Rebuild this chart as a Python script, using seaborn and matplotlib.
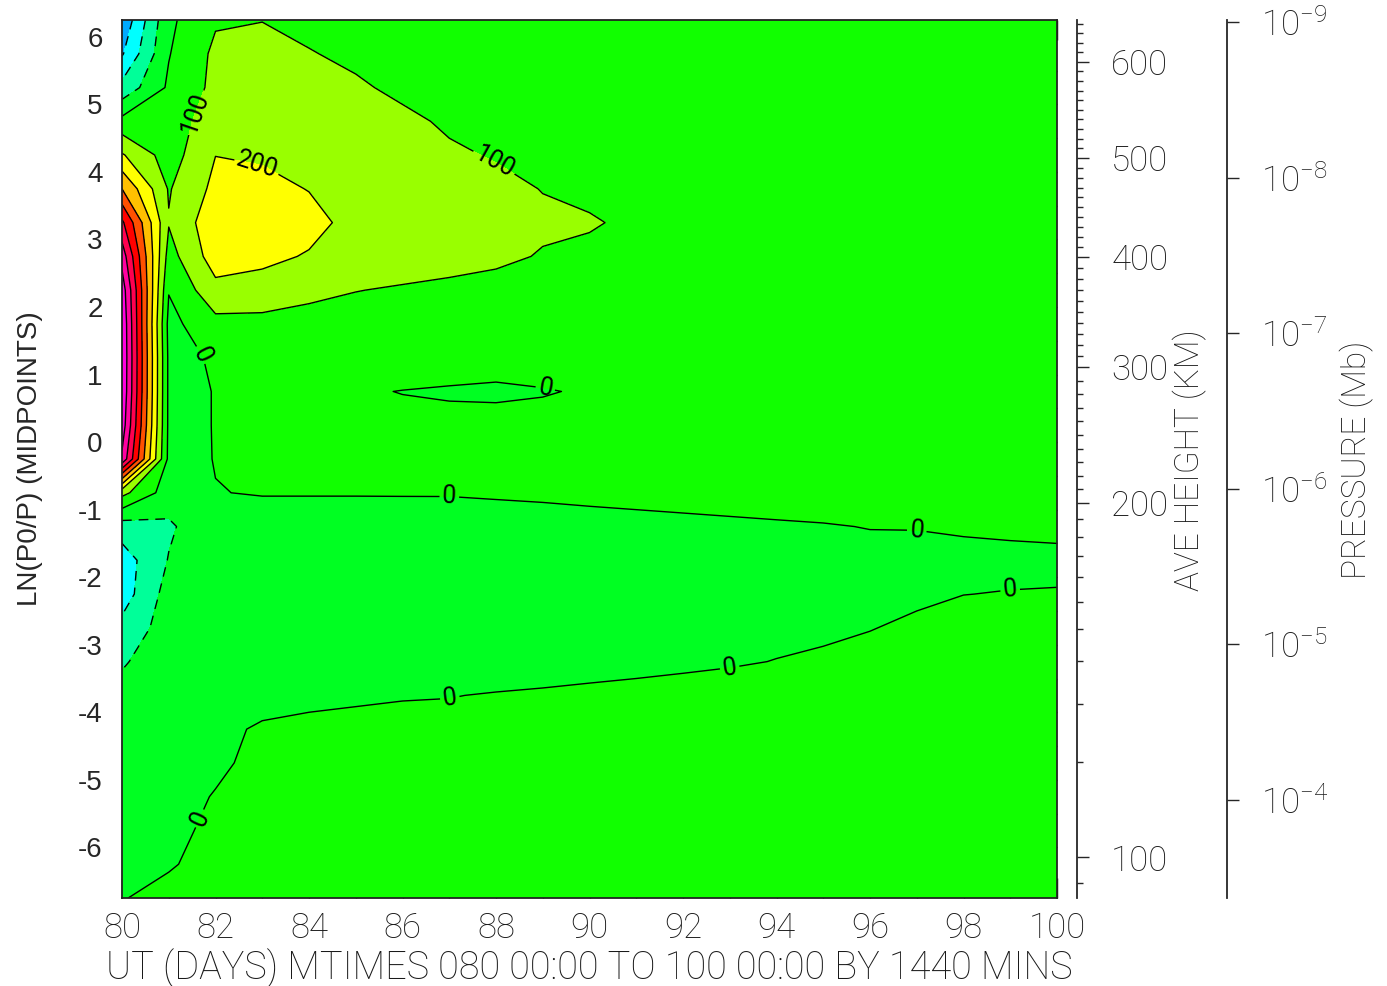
import numpy as np
import matplotlib
matplotlib.use("Agg")
import matplotlib.pyplot as plt
import seaborn as sns
from matplotlib import font_manager
from matplotlib.ticker import FixedLocator, NullLocator

# ---------------- data ----------------
days = [80, 81, 82, 83, 84, 85, 86, 87, 88, 89, 90, 91, 92, 93, 94, 95, 96, 97, 98, 99, 100]
lnp_mid = [-6.75, -6.25, -5.75, -5.25, -4.75, -4.25, -3.75, -3.25, -2.75, -2.25, -1.75, -1.25, -0.75,
           -0.25, 0.25, 0.75, 1.25, 1.75, 2.25, 2.75, 3.25, 3.75, 4.25, 4.75, 5.25, 5.75, 6.25]

# field values, one row per ln(p0/p) level (bottom to top), one column per day
field = [
    [-2, 13, 18, 18, 18, 18, 18, 18, 18, 18, 18, 18, 18, 18, 18, 18, 18, 18, 18, 18, 18],
    [-6, -4, 15, 18, 18, 18, 18, 18, 18, 18, 18, 18, 18, 18, 18, 18, 18, 18, 18, 18, 18],
    [-12, -6, 5, 18, 18, 18, 18, 18, 18, 18, 18, 18, 18, 18, 18, 18, 18, 18, 18, 18, 18],
    [-20, -20, 3, 18, 18, 18, 18, 18, 18, 18, 18, 18, 18, 18, 18, 18, 18, 18, 18, 18, 18],
    [-30, -25, -10, 15, 15, 15, 15, 16, 16, 17, 17, 17, 18, 18, 18, 18, 18, 18, 18, 18, 18],
    [-45, -30, -10, 5, 8, 8, 10, 10, 12, 13, 14, 15, 16, 17, 18, 18, 18, 18, 18, 18, 18],
    [-70, -40, -25, -15, -8, -4, -2, -1, 2, 4.5, 8, 12, 17, 18, 18, 18, 18, 18, 18, 18, 18],
    [-110, -45, -32, -28, -27, -25, -23, -21, -18, -16, -14, -12, -9, -4, 1, 5, 9, 12, 14, 15, 16],
    [-170, -53, -35, -32, -32, -30, -28, -26, -24, -22, -20, -18, -16, -13, -10, -6, -1, 5, 10, 12, 13],
    [-250, -60, -35, -32, -32, -31, -30, -28, -26, -24, -22, -20, -18, -16, -14, -12, -9, -5, -0.3, 1, 2],
    [-250, -95, -30, -30, -30, -30, -28, -26, -24, -21, -19, -17, -15, -13, -12, -11, -10, -8, -7, -7, -8],
    [-150, -115, -25, -27, -27, -27, -25, -24, -20, -15, -12, -10, -8, -6, -4, -2, 1, 1, 3, 5, 8],
    [130, -50, -1.5, 3, 3, 3, 3, 3, 5, 6, 8, 10, 12, 14, 16, 17, 18, 19, 20, 21, 22],
    [780, -25, 2, 10, 10, 9, 9, 9, 9, 9, 10, 11, 12, 13, 14, 14, 14, 14, 14, 14, 14],
    [860, -20, 2, 15, 15, 12, 10, 10, 10, 10, 11, 12, 13, 13, 13, 13, 13, 13, 13, 13, 13],
    [890, -20, 2, 20, 18, 4, -1, -4, -5, -2, 3, 8, 12, 14, 15, 16, 16, 16, 16, 16, 16],
    [895, -20, 7, 35, 35, 30, 25, 20, 13, 16, 20, 22, 23, 23, 22, 22, 21, 21, 20, 20, 20],
    [890, -30, 70, 75, 70, 65, 60, 55, 50, 47, 44, 42, 40, 38, 36, 34, 32, 30, 29, 28, 27],
    [860, 5, 170, 150, 120, 102, 92, 85, 75, 70, 66, 62, 58, 55, 52, 50, 48, 46, 44, 42, 40],
    [760, 60, 250, 230, 190, 160, 140, 125, 115, 95, 88, 80, 74, 69, 64, 60, 57, 54, 52, 50, 48],
    [620, 106, 270, 275, 240, 160, 140, 130, 120, 112, 105, 90, 80, 74, 69, 65, 62, 59, 57, 55, 53],
    [400, 92, 225, 235, 196, 160, 140, 128, 118, 98, 88, 78, 72, 68, 64, 61, 58, 56, 54, 52, 50],
    [210, 53, 199, 185, 160, 140, 125, 110, 95, 82, 74, 68, 64, 61, 58, 56, 54, 52, 50, 48, 46],
    [30, 60, 140, 150, 140, 125, 115, 90, 80, 72, 66, 62, 59, 56, 54, 52, 50, 48, 46, 44, 42],
    [-170, 15, 125, 140, 125, 110, 85, 75, 68, 62, 58, 55, 52, 50, 48, 46, 44, 42, 40, 38, 36],
    [-310, -5, 120, 130, 104, 85, 75, 68, 62, 57, 53, 50, 47, 45, 43, 41, 39, 37, 35, 33, 31],
    [-380, -20, 90, 98, 80, 70, 62, 56, 52, 48, 45, 42, 40, 38, 36, 34, 32, 30, 28, 26, 25],
]

fill_levels = [-400, -300, -200, -100, 0, 100, 200, 300, 400, 500, 600, 700, 800, 900, 1000]
neg_levels = [-300, -200, -100]
high_levels = [300, 400, 500, 600, 700, 800]
band_colors = ["#00aaff", "#00ffff", "#00ff99", "#00ff22", "#11ff00", "#99ff00", "#ffff00",
               "#ffc000", "#ff5000", "#ff0000", "#ff0050", "#ff00a0", "#ff00e0", "#ff00e0"]

x_major = [80, 82, 84, 86, 88, 90, 92, 94, 96, 98, 100]
y_major = [-6, -5, -4, -3, -2, -1, 0, 1, 2, 3, 4, 5, 6]

# average height (km) vs ln(p0/p) calibration for right axis
ave_height_km = [80, 90, 100, 110, 120, 130, 140, 150, 160, 170, 180, 190, 200, 300, 400, 500, 600, 660]
ave_height_lnp = [-6.95, -6.53, -6.15, -4.74, -3.88, -3.24, -2.76, -2.36, -2.0, -1.69, -1.41, -1.14,
                  -0.90, 1.11, 2.74, 4.21, 5.63, 6.48]
height_major = [100, 200, 300, 400, 500, 600]
height_minor = list(range(90, 650, 10))

p0_mb = 5.0e-7
pressure_ticks = [1e-9, 1e-8, 1e-7, 1e-6, 1e-5, 1e-4]
pressure_labels = [r"$10^{-9}$", r"$10^{-8}$", r"$10^{-7}$", r"$10^{-6}$", r"$10^{-5}$", r"$10^{-4}$"]

zero_label_pos = [(81.72, 1.3), (89.05, 0.78), (87.0, -0.82), (97.0, -1.31), (99.0, -2.2),
                  (93.0, -3.35), (87.0, -3.75), (81.75, -5.6)]
hundred_label_pos = [(81.5, 4.9), (88.0, 4.2)]
twohundred_label_pos = [(82.9, 4.12)]

# ---------------- style ----------------
sns.set_style("ticks")
names = {f.name for f in font_manager.fontManager.ttflist}
stroke_font = "DejaVu Sans"
for cand in ["Roboto", "Lato", "Open Sans", "DejaVu Sans"]:
    if cand in names:
        stroke_font = cand
        break
plt.rcParams["font.family"] = [stroke_font, "DejaVu Sans"]
plt.rcParams["font.weight"] = "light"
plt.rcParams["mathtext.fontset"] = "custom"
plt.rcParams["mathtext.rm"] = stroke_font
plt.rcParams["mathtext.default"] = "regular"
plt.rcParams["lines.dashed_pattern"] = [7, 5]
plt.rcParams["axes.unicode_minus"] = False

palette = sns.color_palette(band_colors)
ink = "#1a1a1a"

fig = plt.figure(figsize=(13.87, 9.86), dpi=100)
W, H = 1387.0, 986.0
ax = fig.add_axes([122 / W, 1 - 898 / H, 935 / W, 878 / H])

Z = np.array(field, dtype=float)
ax.contourf(days, lnp_mid, Z, levels=fill_levels, colors=palette)
line_kw = dict(colors="black", linewidths=1.0)
ax.contour(days, lnp_mid, Z, levels=neg_levels, linestyles="dashed", **line_kw)
ax.contour(days, lnp_mid, Z, levels=high_levels, linestyles="solid", **line_kw)
cs0 = ax.contour(days, lnp_mid, Z, levels=[0], linestyles="solid", **line_kw)
cs100 = ax.contour(days, lnp_mid, Z, levels=[100], linestyles="solid", **line_kw)
cs200 = ax.contour(days, lnp_mid, Z, levels=[200], linestyles="solid", **line_kw)

lab_kw = dict(inline=True, fmt="%d", fontsize=18, inline_spacing=3, colors="black")
for cs, pos in [(cs0, zero_label_pos), (cs100, hundred_label_pos), (cs200, twohundred_label_pos)]:
    texts = cs.clabel(manual=pos, **lab_kw)
    for t in texts:
        t.set_fontweight("normal")

ax.set_xlim(80, 100)
ax.set_ylim(-6.75, 6.25)

ax.set_xticks(x_major)
ax.set_xticks(days, minor=True)
ax.set_xticklabels([str(d) for d in x_major], fontsize=25)
ax.set_yticks(y_major)
ax.set_yticks([v + 0.5 for v in range(-7, 6)] + [6.0], minor=True)
ax.set_yticklabels([str(v) for v in y_major], fontsize=20, fontfamily="Liberation Sans",
                   fontweight="normal")
ax.tick_params(axis="x", which="major", direction="in", length=14.4, width=1.0, top=True,
               bottom=True, pad=10, colors="black", labelcolor=ink)
ax.tick_params(axis="x", which="minor", direction="in", length=7.2, width=1.0, top=True, bottom=True)
ax.tick_params(axis="y", which="both", direction="in", length=7.2, width=1.0, left=True,
               right=True, pad=14)
for sp in ax.spines.values():
    sp.set_linewidth(1.3)
    sp.set_color("#222222")

ax.set_ylabel("LN(P0/P) (MIDPOINTS)", fontsize=20, fontfamily="Liberation Sans",
              fontweight="normal")
ax.yaxis.set_label_coords(-0.0845, 0.5)
ax.set_xlabel("UT (DAYS) MTIMES 080 00:00 TO 100 00:00 BY 1440 MINS", fontsize=27.3,
              fontweight="light", color=ink)
ax.xaxis.set_label_coords(0.5, -0.057)
ax.xaxis.label.set_va("top")


# height axis
def z_to_h(z):
    return np.interp(z, ave_height_lnp, ave_height_km)


def h_to_z(h):
    return np.interp(h, ave_height_km, ave_height_lnp)


sec_h = ax.secondary_yaxis(1 + 20 / 935.0, functions=(z_to_h, h_to_z))
sec_h.set_yticks(height_major)
sec_h.set_yticklabels([str(h) for h in height_major], fontsize=25, color=ink)
sec_h.yaxis.set_minor_locator(FixedLocator(height_minor))
sec_h.tick_params(axis="y", which="major", direction="out", length=8.6, width=1.0, pad=16)
sec_h.tick_params(axis="y", which="minor", direction="out", length=4.3, width=1.0)
sec_h.spines["right"].set_linewidth(1.3)


# pressure axis
def z_to_p(z):
    return p0_mb * np.exp(-np.asarray(z, dtype=float))


def p_to_z(p):
    p = np.clip(np.asarray(p, dtype=float), 1e-30, None)
    return np.log(p0_mb / p)


sec_p = ax.secondary_yaxis(1 + 170 / 935.0, functions=(z_to_p, p_to_z))
sec_p.set_yticks(pressure_ticks)
sec_p.set_yticklabels(pressure_labels, fontsize=25, color=ink)
sec_p.yaxis.set_minor_locator(NullLocator())
sec_p.tick_params(axis="y", which="major", direction="out", length=8.6, width=1.0, pad=16)
sec_p.spines["right"].set_linewidth(1.3)

fig.text(1190 / W, 1 - 460 / H, "AVE HEIGHT (KM)", rotation=90, ha="center", va="center",
         fontsize=24, color=ink)
fig.text(1357 / W, 1 - 460 / H, "PRESSURE (Mb)", rotation=90, ha="center", va="center",
         fontsize=24, color=ink)

fig.savefig("out.png", dpi=100, facecolor="white")
